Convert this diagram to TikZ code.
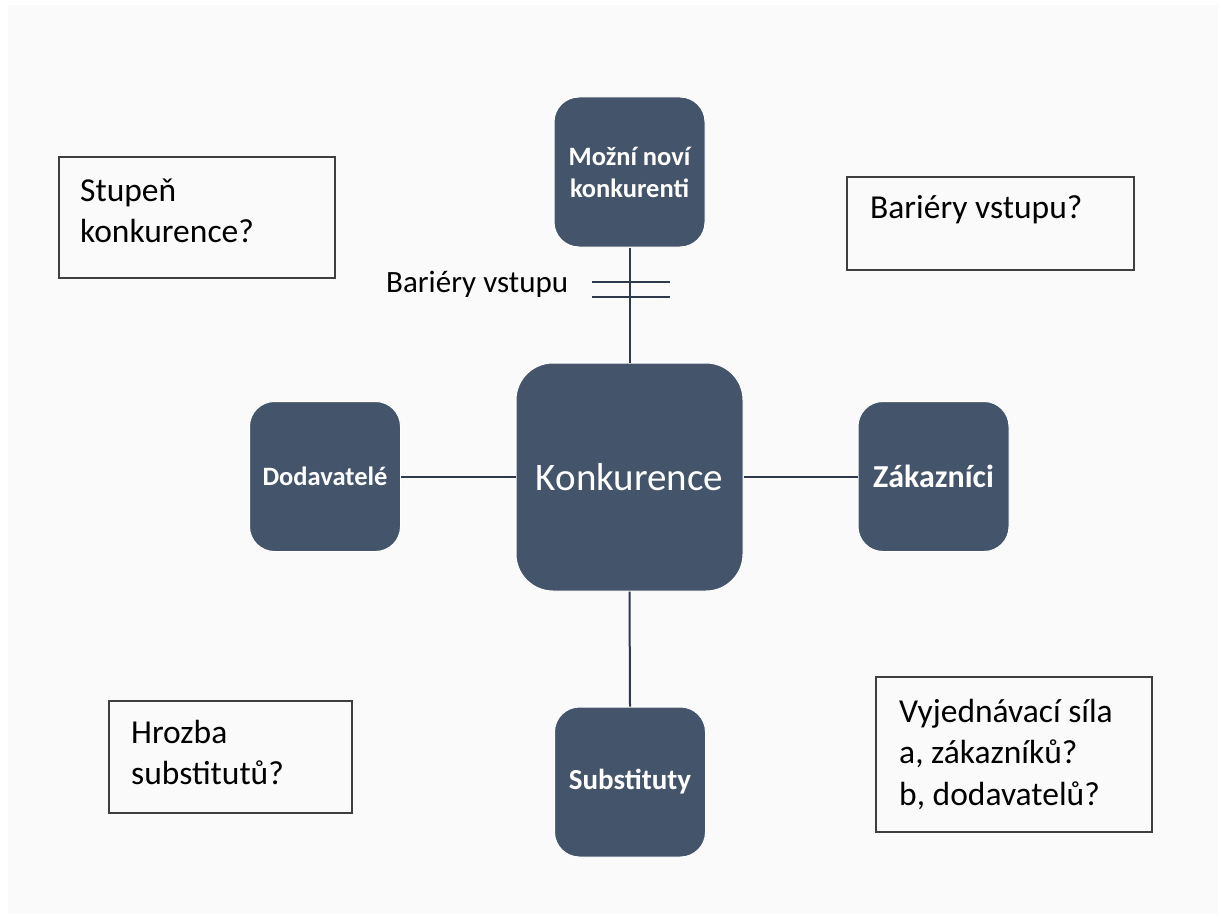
\documentclass[tikz,border=0pt]{standalone}
\usepackage{fontspec}
\setmainfont{Carlito}
\definecolor{boxfill}{HTML}{44546A}
\definecolor{connc}{HTML}{2E3A4B}
\definecolor{framec}{HTML}{3F3F3F}
\definecolor{bgc}{HTML}{FAFAFA}
\tikzset{
  rbox/.style={fill=boxfill, draw=white, line width=1pt, text=white,
    font=\bfseries\fontsize{26.5}{32}\selectfont, align=center, inner sep=0pt,
    minimum width=151pt, minimum height=150pt, rounded corners=25pt},
  bigbox/.style={rbox, font=\fontsize{39}{46}\selectfont,
    minimum width=227pt, minimum height=228pt, rounded corners=37pt},
  conn/.style={draw=connc, line width=2pt},
  framebox/.style={draw=framec, line width=1.6pt},
  qtext/.style={anchor=north west, inner sep=0pt, align=left,
    font=\fontsize{33.5}{41.5}\selectfont, text=black},
}
\begin{document}
\begin{tikzpicture}[x=1pt,y=-1pt]
\useasboundingbox (0,0) rectangle (1222,917);
\fill[white] (0,0) rectangle (1222,917);
\fill[bgc] (8,5) rectangle (1218,914);

% rounded boxes
\node[bigbox] (konk) at (629.5,477) {Konkurence};
\node[rbox] (nove) at (629.5,172) {Možní noví\\konkurenti};
\node[rbox] (dod) at (325,476.5) {Dodavatelé};
\node[rbox, font=\bfseries\fontsize{32}{38}\selectfont] (zak) at (933.5,476.5) {Zákazníci};
\node[rbox, font=\bfseries\fontsize{29}{35}\selectfont] (sub) at (630,782) {Substituty};

% connectors
\draw[conn] (nove.south) -- (konk.north);
\draw[conn] (konk.south) -- (sub.north);
\draw[conn] (dod.east) -- (dod.east -| konk.west);
\draw[conn] (konk.east) -- (konk.east -| zak.west);

% barrier bars
\coordinate (bar1) at (592,282);
\coordinate (bar2) at (592,297);
\draw[conn, line width=1.6pt] (bar1) -- ++(78,0);
\draw[conn, line width=1.6pt] (bar2) -- ++(78,0);
\node[anchor=base west, inner sep=0pt, font=\fontsize{31}{37}\selectfont] (barlab) at (386,292) {Bariéry vstupu};

% question boxes
\draw[framebox] (59,157) rectangle (335,278);
\node[qtext] (q1) at (80,174) {\rule{0pt}{27pt}Stupeň\\konkurence?};

\draw[framebox] (847,177) rectangle (1134,270);
\node[qtext] (q2) at (870,191) {\rule{0pt}{27pt}Bariéry vstupu?};

\draw[framebox] (109,701) rectangle (352,813);
\node[qtext] (q3) at (131,716) {\rule{0pt}{27pt}Hrozba\\substitutů?};

\draw[framebox] (876,677) rectangle (1152,832);
\node[qtext] (q4) at (899,695) {\rule{0pt}{27pt}Vyjednávací síla\\a, zákazníků?\\b, dodavatelů?};
\end{tikzpicture}
\end{document}
